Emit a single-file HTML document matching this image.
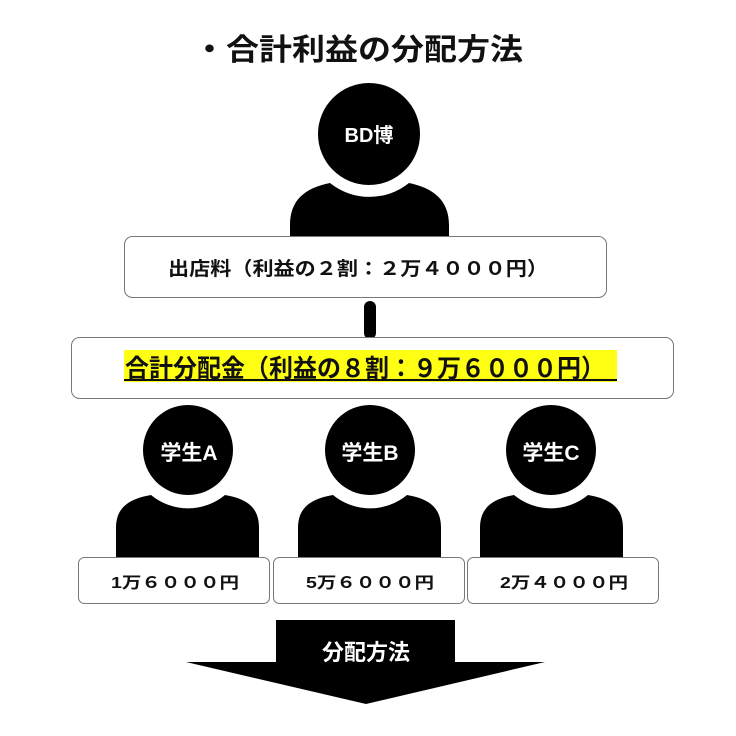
<!DOCTYPE html>
<html><head><meta charset="utf-8"><style>
html,body{margin:0;padding:0;background:#fff;}
svg{display:block;}
text{font-family:"Liberation Sans","Noto Sans CJK JP",sans-serif;font-weight:bold;}
</style></head><body>
<svg width="736" height="736" viewBox="0 0 736 736" xmlns="http://www.w3.org/2000/svg">
<text x="193" y="60" font-size="30" fill="#111" textLength="330" lengthAdjust="spacingAndGlyphs">・合計利益の分配方法</text>

<!-- BD person -->
<ellipse cx="369" cy="134" rx="51" ry="51" fill="#000"/>
<path d="M290,236 V225 C290,200 305,188 330,183 A63,63 0 0 0 409,183 C433,188 449,200 449,225 V236 Z" fill="#000"/>
<text x="369" y="142" font-size="20" fill="#fff" text-anchor="middle">BD博</text>

<rect x="124.5" y="236.5" width="482" height="61" rx="8" fill="#fff" stroke="#777" stroke-width="1"/>
<text x="168" y="275" font-size="19" fill="#111" textLength="380" lengthAdjust="spacingAndGlyphs">出店料（利益の２割：２万４０００円）</text>

<rect x="364" y="301" width="12" height="38" rx="6" fill="#000"/>

<rect x="71.5" y="337.5" width="602" height="61" rx="8" fill="#fff" stroke="#777" stroke-width="1"/>
<rect x="124" y="350" width="493" height="32" fill="#ffff14"/>
<text x="125" y="377" font-size="25" fill="#111" textLength="480" lengthAdjust="spacingAndGlyphs">合計分配金（利益の８割：９万６０００円）</text>
<rect x="124" y="379" width="493" height="2" fill="#111"/>

<!-- students -->
<g fill="#000">
<circle cx="188" cy="450" r="45"/>
<path d="M116,557 V528 C116,508 128,499 151,495 A58,58 0 0 0 225,495 C248,499 259,508 259,528 V557 Z"/>
<circle cx="370" cy="450" r="45"/>
<path d="M298,557 V528 C298,508 310,499 333,495 A58,58 0 0 0 407,495 C430,499 441,508 441,528 V557 Z"/>
<circle cx="551" cy="450" r="45"/>
<path d="M480,557 V528 C480,508 492,499 514,495 A58,58 0 0 0 588,495 C611,499 623,508 623,528 V557 Z"/>
</g>
<text x="189" y="460" font-size="21" fill="#fff" text-anchor="middle">学生A</text>
<text x="370" y="460" font-size="21" fill="#fff" text-anchor="middle">学生B</text>
<text x="551" y="460" font-size="21" fill="#fff" text-anchor="middle">学生C</text>

<rect x="78.5" y="557.5" width="191" height="46" rx="6" fill="#fff" stroke="#777"/>
<rect x="273.5" y="557.5" width="191" height="46" rx="6" fill="#fff" stroke="#777"/>
<rect x="467.5" y="557.5" width="191" height="46" rx="6" fill="#fff" stroke="#777"/>
<text x="111" y="588" font-size="16" fill="#111" textLength="128" lengthAdjust="spacingAndGlyphs">1万６０００円</text>
<text x="306" y="588" font-size="16" fill="#111" textLength="128" lengthAdjust="spacingAndGlyphs">5万６０００円</text>
<text x="500" y="588" font-size="16" fill="#111" textLength="128" lengthAdjust="spacingAndGlyphs">2万４０００円</text>

<!-- arrow -->
<path d="M276,620 H455 V662 H545 L366,704 L186,662 H276 Z" fill="#000"/>
<text x="366" y="660" font-size="22" fill="#fff" text-anchor="middle">分配方法</text>
</svg>
</body></html>
